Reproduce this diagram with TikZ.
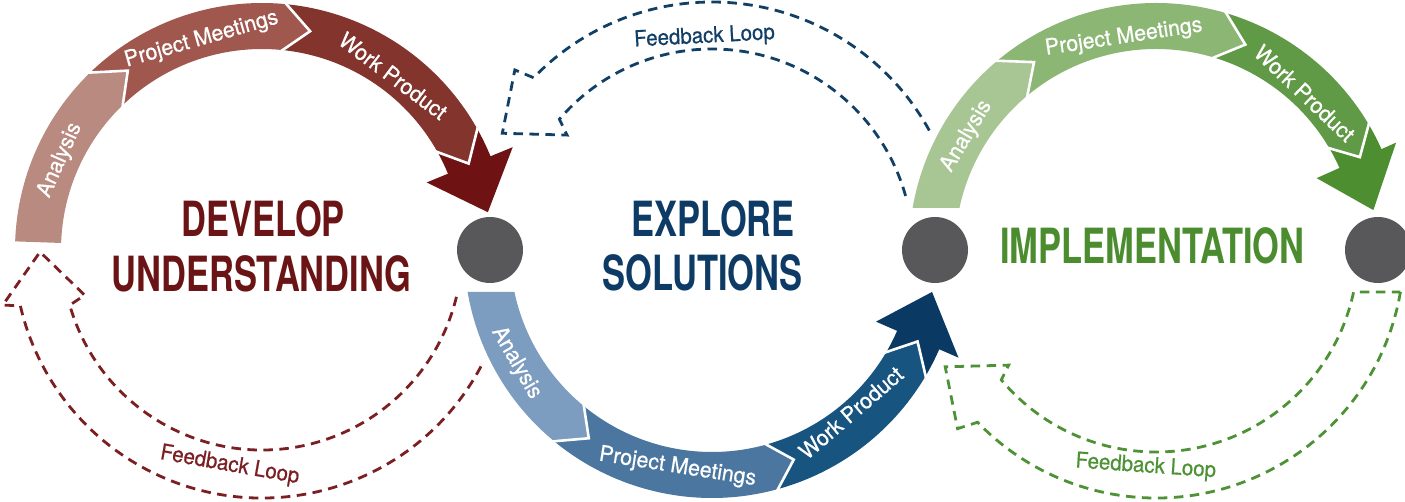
\documentclass[tikz,border=0pt]{standalone}
\usepackage{fontspec}
\setmainfont{TeX Gyre Heros}
\newfontfamily\titlefont{TeX Gyre Heros}[FakeStretch=0.71]
\newfontfamily\lblfont{TeX Gyre Heros}[FakeStretch=0.97,FakeBold=0.6]
\newfontfamily\fbfont{TeX Gyre Heros}[FakeStretch=0.93,FakeBold=0.6]
\usetikzlibrary{calc}
\definecolor{redA}{HTML}{B98A80}
\definecolor{redB}{HTML}{A0574E}
\definecolor{redC}{HTML}{82342D}
\definecolor{redD}{HTML}{6E1214}
\definecolor{redT}{HTML}{6B1416}
\definecolor{redF}{HTML}{7B1F22}
\definecolor{blueA}{HTML}{7D9DC0}
\definecolor{blueB}{HTML}{4A76A0}
\definecolor{blueC}{HTML}{185480}
\definecolor{blueD}{HTML}{0A3A64}
\definecolor{blueT}{HTML}{0D3B66}
\definecolor{blueF}{HTML}{123F66}
\definecolor{greenA}{HTML}{A8C694}
\definecolor{greenB}{HTML}{8CB674}
\definecolor{greenC}{HTML}{609A46}
\definecolor{greenD}{HTML}{4C8E30}
\definecolor{greenT}{HTML}{4A8C2E}
\definecolor{greenF}{HTML}{4E9236}
\definecolor{dotgray}{HTML}{58585A}
% band segment: color, center, tail, tail apex, head, head apex, rin, rout, rmid
\newcommand\bandseg[9]{%
  \fill[#1] ($(#2)+(#3:#8)$) arc[start angle=#3, end angle=#5, radius=#8]
    -- ($(#2)+(#6:#9)$) -- ($(#2)+(#5:#7)$)
    arc[start angle=#5, end angle=#3, radius=#7]
    -- ($(#2)+(#4:#9)$) -- cycle;}
% white chevron: center, boundary, apex, rin, rout, rmid
\newcommand\chevline[6]{%
  \draw[chevron] ($(#1)+(#2:#5)$) -- ($(#1)+(#3:#6)$) -- ($(#1)+(#2:#4)$);}
\begin{document}
\begin{tikzpicture}[x=1pt,y=1pt,
  chevron/.style={white, line width=2.6pt, line join=miter, line cap=butt},
  fbline/.style={dash pattern=on 9.5pt off 6.5pt, line width=2.8pt, line join=miter},
  lbl/.style={inner sep=0pt, text=white, font={\lblfont\fontsize{22}{24}\selectfont}},
  fblbl/.style={inner sep=0pt, font={\fbfont\fontsize{22}{24}\selectfont}},
  ttl/.style={inner sep=0pt, anchor=base, font={\titlefont\bfseries\fontsize{48.5}{50}\selectfont}},
  dot/.style={circle, fill=dotgray, minimum size=66pt, inner sep=0pt}]
\fill[white] (0,0) rectangle (1405,502);
\useasboundingbox (0,0) rectangle (1405,502);
\coordinate (R) at (262,252);
\coordinate (B) at (712,252);
\coordinate (G) at (1156,252);

% ---------- feedback loops ----------
\draw[fbline, redF] ($(R)+(-28:248)$) arc[start angle=-28, end angle=-167, radius=248]
  -- ($(R)+(-168:265)$) -- ($(R)+(180.5:222)$) -- ($(R)+(-165.7:183)$)
  -- ($(R)+(-164:200)$) arc[start angle=-164, end angle=-13.4, radius=200];
\draw[fbline, blueF] ($(B)+(28.8:248)$) arc[start angle=28.8, end angle=136, radius=248]
  -- ($(B)+(137.6:267)$) -- ($(B)+(150.9:240)$) -- ($(B)+(141.6:185)$)
  -- ($(B)+(139.4:201)$) arc[start angle=139.4, end angle=15.4, radius=201];
\draw[fbline, greenF] ($(G)+(-9.75:248)$) arc[start angle=-9.75, end angle=-136, radius=248]
  -- ($(G)+(-138:267)$) -- ($(G)+(-151:241)$) -- ($(G)+(-142:187)$)
  -- ($(G)+(-140:202)$) arc[start angle=-140, end angle=-12, radius=202] -- cycle;

% ---------- red band ----------
\fill[redA] ($(R)+(178:247)$) arc[start angle=178, end angle=134.6, radius=247]
  -- ($(R)+(126.8:224)$) -- ($(R)+(134.6:201)$) arc[start angle=134.6, end angle=178, radius=201] -- cycle;
\bandseg{redB}{R}{134.6}{126.8}{84.8}{77.6}{201}{247}{224}
\bandseg{redC}{R}{84.8}{77.6}{29.8}{22.7}{201}{247}{224}
\fill[redD] ($(R)+(29.8:247)$) arc[start angle=29.8, end angle=22.3, radius=247]
  -- ($(R)+(22.3:271)$) -- ($(R)+(9.5:229)$) -- ($(R)+(22.3:178)$)
  -- ($(R)+(22.3:201)$) arc[start angle=22.3, end angle=29.8, radius=201]
  -- ($(R)+(22.7:224)$) -- cycle;
\chevline{R}{134.6}{126.8}{199}{249}{224}
\chevline{R}{84.8}{77.6}{199}{249}{224}
\chevline{R}{29.8}{22.7}{199}{249}{224}

% ---------- blue band ----------
\fill[blueA] ($(B)+(189.75:248)$) arc[start angle=189.75, end angle=230, radius=248]
  -- ($(B)+(236.8:225)$) -- ($(B)+(230:202)$) arc[start angle=230, end angle=192, radius=202] -- cycle;
\bandseg{blueB}{B}{230}{236.8}{285}{291.3}{202}{248}{225}
\bandseg{blueC}{B}{285}{291.3}{329}{336}{202}{248}{225}
\fill[blueD] ($(B)+(329:248)$) arc[start angle=329, end angle=336.4, radius=248]
  -- ($(B)+(336.4:269)$) -- ($(B)+(349.2:224)$) -- ($(B)+(336.4:179)$)
  -- ($(B)+(336.4:202)$) arc[start angle=336.4, end angle=329, radius=202]
  -- ($(B)+(336:225)$) -- cycle;
\chevline{B}{230}{236.8}{200}{250}{225}
\chevline{B}{285}{291.3}{200}{250}{225}
\chevline{B}{329}{336}{200}{250}{225}

% ---------- green band ----------
\fill[greenA] ($(G)+(170.2:247)$) arc[start angle=170.2, end angle=130.5, radius=247]
  -- ($(G)+(123:224)$) -- ($(G)+(130.5:201)$) arc[start angle=130.5, end angle=167.9, radius=201] -- cycle;
\bandseg{greenB}{G}{130.5}{123}{74}{66.5}{201}{247}{224}
\bandseg{greenC}{G}{74}{66.5}{31}{24.5}{201}{247}{224}
\fill[greenD] ($(G)+(31:247)$) arc[start angle=31, end angle=24.1, radius=247]
  -- ($(G)+(24.1:263)$) -- ($(G)+(10.4:221)$) -- ($(G)+(24.1:176)$)
  -- ($(G)+(24.1:201)$) arc[start angle=24.1, end angle=31, radius=201]
  -- ($(G)+(24.5:224)$) -- cycle;
\chevline{G}{130.5}{123}{199}{249}{224}
\chevline{G}{74}{66.5}{199}{249}{224}
\chevline{G}{31}{24.5}{199}{249}{224}

% ---------- dots ----------
\node[dot] (d1) at (490,252) {};
\node[dot] (d2) at (935,252) {};
\node[dot] (d3) at (1378,252) {};

% ---------- band labels ----------
\node[lbl, rotate=66] (ra) at ($(R)+(156:221)$) {Analysis};
\node[lbl, rotate=16] (rp) at ($(R)+(106:219)$) {Project Meetings};
\node[lbl, rotate=-37] (rw) at ($(R)+(53:218)$) {Work Product};
\node[lbl, rotate=-60] (ba) at ($(B)+(210:226)$) {Analysis};
\node[lbl, rotate=-9] (bp) at ($(B)+(261:220)$) {Project Meetings};
\node[lbl, rotate=40.5] (bw) at ($(B)+(310.5:214)$) {Work Product};
\node[lbl, rotate=59] (ga) at ($(G)+(149:221)$) {Analysis};
\node[lbl, rotate=8.6] (gp) at ($(G)+(98.6:215)$) {Project Meetings};
\node[lbl, rotate=-43.5] (gw) at ($(G)+(46.5:216)$) {Work Product};

% ---------- feedback labels ----------
\node[fblbl, text=redF, rotate=-10] (rf) at ($(R)+(261.5:218)$) {Feedback Loop};
\node[fblbl, text=blueF, rotate=3] (bf) at ($(B)+(92:213)$) {Feedback Loop};
\node[fblbl, text=greenF, rotate=-4] (gf) at ($(G)+(267.3:217)$) {Feedback Loop};

% ---------- titles ----------
\node[ttl, text=redT] (t1) at (263,265) {DEVELOP};
\node[ttl, text=redT] (t2) at (261.5,210) {UNDERSTANDING};
\node[ttl, text=blueT] (t3) at (713,265) {EXPLORE};
\node[ttl, text=blueT] (t4) at (702.5,211) {SOLUTIONS};
\node[ttl, text=greenT] (t5) at (1152.5,238) {IMPLEMENTATION};
\end{tikzpicture}
\end{document}
